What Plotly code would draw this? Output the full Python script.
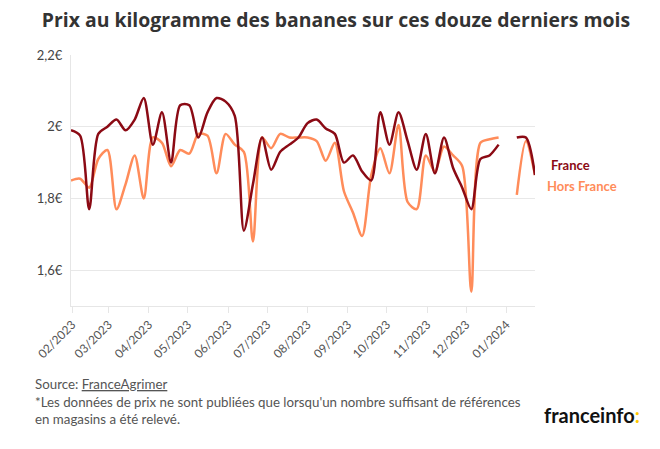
import plotly.graph_objects as go
import pandas as pd

dates = pd.date_range("2023-01-31", periods=52, freq="7D")

france = [1.99, 1.975, 1.77, 1.98, 2.00, 2.02, 1.99, 2.02, 2.08, 1.95,
          2.04, 1.90, 2.06, 2.06, 1.97, 2.04, 2.08, 2.07, 2.03, 1.71,
          1.84, 1.97, 1.88, 1.93, 1.95, 1.97, 2.01, 2.02, 1.995, 1.98,
          1.90, 1.92, 1.875, 1.85, 2.04, 1.95, 2.04, 1.96, 1.88, 1.98,
          1.87, 1.97, 1.885, 1.83, 1.77, 1.91, 1.92, 1.95, None, 1.97,
          1.97, 1.865]

hors_france = [1.85, 1.855, 1.83, 1.91, 1.935, 1.77, 1.84, 1.92, 1.80, 1.97,
               1.955, 1.89, 1.935, 1.925, 1.98, 1.975, 1.87, 1.98, 1.95, 1.93,
               1.68, 1.97, 1.94, 1.98, 1.97, 1.97, 1.97, 1.96, 1.905, 1.955,
               1.82, 1.76, 1.695, 1.865, 1.94, 1.87, 2.005, 1.79, 1.77, 1.92,
               1.875, 1.945, 1.92, 1.89, 1.54, 1.955, 1.965, 1.97, None, 1.81,
               1.96, 1.865]

tick_vals = pd.date_range("2023-02-01", periods=12, freq="MS")
tick_text = [d.strftime("%m/%Y") for d in tick_vals]
y_ticks = [1.6, 1.8, 2.0, 2.2]
y_text = ["1,6€", "1,8€", "2€", "2,2€"]

C_FR = "#8B0A14"
C_HF = "#FF8C5A"
FONT = "Lato"

fig = go.Figure()
fig.add_trace(go.Scatter(x=dates, y=hors_france, mode="lines", name="Hors France",
                         line=dict(color=C_HF, width=2.5, shape="spline", smoothing=0.8),
                         connectgaps=False, hoverinfo="skip"))
fig.add_trace(go.Scatter(x=dates, y=france, mode="lines", name="France",
                         line=dict(color=C_FR, width=2.5, shape="spline", smoothing=0.8),
                         connectgaps=False, hoverinfo="skip"))

fig.update_layout(
    width=660, height=449,
    margin=dict(l=71, r=125, t=55, b=143),
    paper_bgcolor="white", plot_bgcolor="white",
    showlegend=False,
    font=dict(family=FONT, color="#444"),
    title=dict(text="<b>Prix au kilogramme des bananes sur ces douze derniers mois</b>",
               x=0.509, xanchor="center", xref="container", y=0.955, yanchor="middle",
               font=dict(size=19.4, color="#333", family="Open Sans")),
)
fig.update_xaxes(
    range=[dates[0], dates[-1]],
    tickmode="array", tickvals=tick_vals, ticktext=tick_text,
    tickangle=-45, tickfont=dict(size=12, color="#555"),
    showgrid=False, showline=True, linecolor="#e6e6e6", linewidth=1,
    ticks="outside", tickcolor="#e6e6e6", ticklen=6,
)
fig.update_yaxes(
    range=[1.5, 2.2],
    tickmode="array", tickvals=y_ticks, ticktext=y_text,
    tickfont=dict(size=13, color="#444"),
    showgrid=True, gridcolor="#e8e8e8", gridwidth=1,
    zeroline=False, showline=True, linecolor="#e6e6e6",
    ticks="", ticklabelstandoff=5,
)

fig.add_annotation(xref="paper", yref="paper", x=1.03, y=0.561, xanchor="left", yanchor="middle",
                   text="<b>France</b>", showarrow=False,
                   font=dict(size=13, color=C_FR, family=FONT))
fig.add_annotation(xref="paper", yref="paper", x=1.022, y=0.48, xanchor="left", yanchor="middle",
                   text="<b>Hors France</b>", showarrow=False,
                   font=dict(size=13, color=C_HF, family=FONT))

fig.add_annotation(xref="paper", yref="paper", x=-0.082, y=-0.31, xanchor="left", yanchor="middle",
                   text="Source: <u>FranceAgrimer</u>", showarrow=False, align="left",
                   font=dict(size=13.3, color="#555", family=FONT))
fig.add_annotation(xref="paper", yref="paper", x=-0.082, y=-0.415, xanchor="left", yanchor="middle",
                   text="*Les données de prix ne sont publiées que lorsqu'un nombre suffisant de références<br>en magasins a été relevé.",
                   showarrow=False, align="left",
                   font=dict(size=13.3, color="#555", family=FONT))
fig.add_annotation(xref="paper", yref="paper", x=1.23, y=-0.435, xanchor="right", yanchor="middle",
                   text="<b>franceinfo</b><b><span style='color:#FFC800'>:</span></b>", showarrow=False,
                   font=dict(size=20, color="#111", family=FONT))

fig.write_html("out.html", config={"displayModeBar": False},
               post_script="document.body.style.margin='0px';")
